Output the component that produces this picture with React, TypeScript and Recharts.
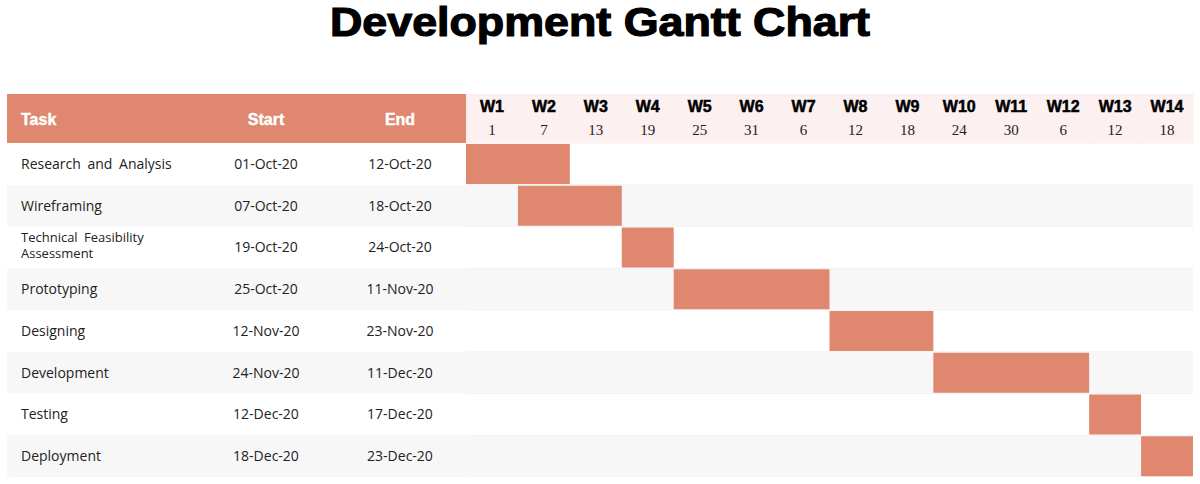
import React from 'react';
import { BarChart, Bar, XAxis, YAxis, CartesianGrid } from 'recharts';

// ---------- data ----------
const tasks = [
  'Research and Analysis',
  'Wireframing',
  'Technical Feasibility Assessment',
  'Prototyping',
  'Designing',
  'Development',
  'Testing',
  'Deployment',
];
const startLabels = ['01-Oct-20', '07-Oct-20', '19-Oct-20', '25-Oct-20', '12-Nov-20', '24-Nov-20', '12-Dec-20', '18-Dec-20'];
const endLabels = ['12-Oct-20', '18-Oct-20', '24-Oct-20', '11-Nov-20', '23-Nov-20', '11-Dec-20', '17-Dec-20', '23-Dec-20'];
// day offsets from 01-Oct-20 and inclusive durations (days)
const startDays = [0, 6, 18, 24, 42, 54, 72, 78];
const durations = [12, 12, 6, 18, 12, 18, 6, 6];

const weekLabels = ['W1', 'W2', 'W3', 'W4', 'W5', 'W6', 'W7', 'W8', 'W9', 'W10', 'W11', 'W12', 'W13', 'W14'];
const weekDays = [1, 7, 13, 19, 25, 31, 6, 12, 18, 24, 30, 6, 12, 18];
const weekCenters = [3, 9, 15, 21, 27, 33, 39, 45, 51, 57, 63, 69, 75, 81];
const totalDays = 84;

const data = tasks.map((t, i) => ({
  task: t,
  offset: startDays[i],
  duration: durations[i],
}));

// ---------- layout / style ----------
const W = 1200;
const H = 484;
const MARGIN = { top: 94, right: 7, bottom: 7, left: 7 };
const Y_W = 459;
const X_H = 49;
const PLOT_W = W - MARGIN.left - MARGIN.right - Y_W;
const PLOT_H = H - MARGIN.top - MARGIN.bottom - X_H;
const ROW_H = PLOT_H / tasks.length;
const COL_W = PLOT_W / weekLabels.length;
const HEADER_TOP = MARGIN.top;

const ORANGE = '#E0876F';
const PINK = '#FDF0F0';
const GREY = '#F7F7F7';

const TASK_X = 21;
const START_X = 266;
const END_X = 400;

const headFont = '"Liberation Sans", Arial, sans-serif';
const bodyFont = '"Open Sans", "Noto Sans", sans-serif';
const serifFont = '"Liberation Serif", "Times New Roman", serif';

function wrap(s: string): string[] {
  if (s.length <= 22) return [s];
  const idx = s.lastIndexOf(' ', 22);
  return [s.slice(0, idx), s.slice(idx + 1)];
}

const WeekTick = (props: any) => {
  const { x, payload } = props;
  let index = typeof props.index === 'number' ? props.index : weekCenters.indexOf(payload.value);
  if (index < 0) index = weekCenters.indexOf(payload.value);
  return (
    <g>
      {index === 0 && (
        <g>
          <rect x={MARGIN.left} y={HEADER_TOP} width={Y_W} height={X_H} fill={ORANGE} />
          <text x={TASK_X} y={HEADER_TOP + 31} fill="#fff" fontFamily={headFont} fontWeight={700} fontSize={16} stroke="#fff" strokeWidth={0.4}>Task</text>
          <text x={START_X} y={HEADER_TOP + 31} fill="#fff" textAnchor="middle" fontFamily={headFont} fontWeight={700} fontSize={16} stroke="#fff" strokeWidth={0.4}>Start</text>
          <text x={END_X} y={HEADER_TOP + 31} fill="#fff" textAnchor="middle" fontFamily={headFont} fontWeight={700} fontSize={16} stroke="#fff" strokeWidth={0.4}>End</text>
        </g>
      )}
      <rect x={x - COL_W / 2} y={HEADER_TOP} width={COL_W + 0.6} height={X_H} fill={PINK} />
      <text x={x} y={HEADER_TOP + 18} textAnchor="middle" fill="#000" fontFamily={headFont} fontWeight={700} fontSize={16} stroke="#000" strokeWidth={0.5}>
        {weekLabels[index]}
      </text>
      <text x={x} y={HEADER_TOP + 41} textAnchor="middle" fill="#222" fontFamily={serifFont} fontSize={15}>
        {weekDays[index]}
      </text>
    </g>
  );
};

const TaskTick = (props: any) => {
  const { y, payload } = props;
  const i = tasks.indexOf(payload.value);
  const lines = wrap(payload.value);
  return (
    <g>
      {i % 2 === 1 && (
        <rect x={MARGIN.left} y={y - ROW_H / 2} width={Y_W} height={ROW_H} fill={GREY} rx={2} />
      )}
      {lines.length === 1 ? (
        <text x={TASK_X} y={y + 5} fill="#222" fontFamily={bodyFont} fontSize={14} wordSpacing={3}>{lines[0]}</text>
      ) : (
        <g>
          <text x={TASK_X} y={y - 5} fill="#222" fontFamily={bodyFont} fontSize={13} wordSpacing={3}>{lines[0]}</text>
          <text x={TASK_X} y={y + 11} fill="#222" fontFamily={bodyFont} fontSize={13} wordSpacing={3}>{lines[1]}</text>
        </g>
      )}
      <text x={START_X} y={y + 5} textAnchor="middle" fill="#222" fontFamily={bodyFont} fontSize={14}>{startLabels[i]}</text>
      <text x={END_X} y={y + 5} textAnchor="middle" fill="#222" fontFamily={bodyFont} fontSize={14}>{endLabels[i]}</text>
    </g>
  );
};

const rowEdges = ({ offset }: any) => {
  const top = offset?.top ?? MARGIN.top + X_H;
  const h = offset?.height ?? PLOT_H;
  return tasks.map((_, i) => top + (i * h) / tasks.length);
};

export default function App() {
  return (
    <div style={{ position: 'absolute', left: 0, top: 0, width: W, height: H, background: '#fff' }}>
      <svg width={W} height={60} style={{ position: 'absolute', left: 0, top: 0 }}>
        <text x={W / 2} y={36} textAnchor="middle" fontFamily={headFont} fontWeight={700} fontSize={40} fill="#000" stroke="#000" strokeWidth={1.2} textLength={540} lengthAdjust="spacingAndGlyphs">
          Development Gantt Chart
        </text>
      </svg>
      <div style={{ position: 'absolute', left: 0, top: 0 }}>
        <BarChart width={W} height={H} data={data} layout="vertical" margin={MARGIN} barCategoryGap={1}>
          <CartesianGrid
            vertical={false}
            horizontal={true}
            horizontalCoordinatesGenerator={rowEdges}
            horizontalFill={['#FFFFFF', GREY]}
            stroke="#F2F2F2"
          />
          <XAxis
            type="number"
            orientation="top"
            domain={[0, totalDays]}
            ticks={weekCenters}
            interval={0}
            height={X_H}
            axisLine={false}
            tickLine={false}
            tick={WeekTick}
            allowDataOverflow
          />
          <YAxis
            type="category"
            dataKey="task"
            width={Y_W}
            interval={0}
            axisLine={false}
            tickLine={false}
            tick={TaskTick}
          />
          <Bar dataKey="offset" stackId="g" fill="transparent" isAnimationActive={false} />
          <Bar dataKey="duration" stackId="g" fill={ORANGE} isAnimationActive={false} />
        </BarChart>
      </div>
    </div>
  );
}
